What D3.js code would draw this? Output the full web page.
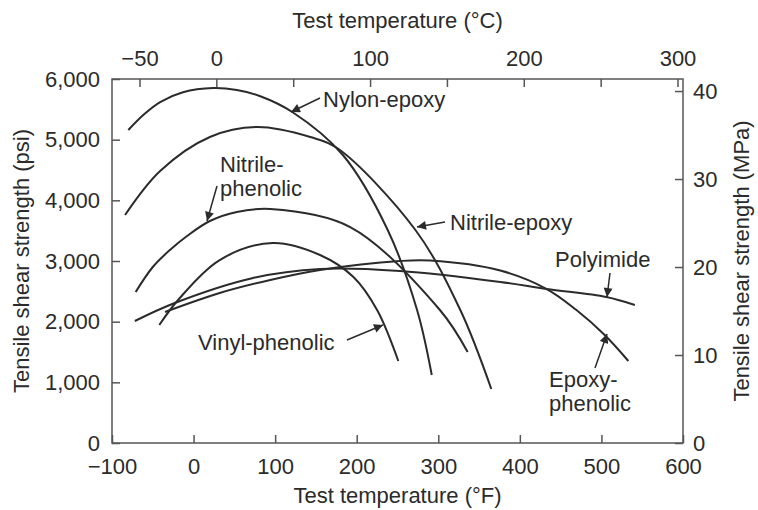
<!DOCTYPE html>
<html><head><meta charset="utf-8">
<script src="https://cdn.jsdelivr.net/npm/d3@7"></script>
<style>
body{margin:0;background:#fff}
svg{display:block}
text{font-family:"Liberation Sans",Arial,Helvetica,sans-serif;fill:#2b2b2b}
</style>
</head><body>
<svg id="chart" width="758" height="510"></svg>
<script>
// ---- data (°F, psi) ----
const fahrenheitTicks = [-100, 0, 100, 200, 300, 400, 500, 600];
const psiTicks = [0, 1000, 2000, 3000, 4000, 5000, 6000];
const celsiusTicks = [-50, 0, 50, 100, 150, 200, 250, 300];
const celsiusLabels = [-50, 0, 100, 200, 300];
const mpaTicks = [0, 10, 20, 30, 40];
const seriesNames = ["Nylon-epoxy", "Nitrile-epoxy", "Nitrile-phenolic", "Vinyl-phenolic", "Polyimide", "Epoxy-phenolic"];

const nylonEpoxy = [[-80,5160],[-61,5415],[-41,5620],[-13,5782],[24,5850],[53,5818],[81,5720],[121,5456],[183,4747],[238,3511],[274,2192],[292,1121]];
const nitrileEpoxy = [[-84,3758],[-41,4483],[20,5044],[78,5208],[143,5044],[176,4862],[272,3511],[327,2192],[365,890]];
const nitrilePhenolic = [[-71,2489],[-50,2901],[-29,3181],[-8,3412],[20,3659],[53,3808],[94,3857],[192,3560],[302,2192],[336,1500]];
const vinylPhenolic = [[-42,1945],[-19,2357],[32,3016],[97,3297],[155,3099],[196,2736],[225,2192],[251,1352]];
const polyimide = [[-72,2011],[-23,2308],[73,2720],[155,2868],[253,2835],[376,2654],[433,2538],[506,2406],[541,2275]];
const epoxyPhenolic = [[-35,2159],[32,2472],[94,2687],[155,2852],[253,3000],[290,3008],[376,2843],[433,2538],[469,2195],[504,1780],[533,1352]];
const allSeries = [nylonEpoxy, nitrileEpoxy, nitrilePhenolic, vinylPhenolic, polyimide, epoxyPhenolic];

const PSI_PER_MPA = 145.038;

// ---- layout ----
const L = 112, R = 683, T = 79, B = 443;
const FS = 22;

const svg = d3.select("#chart");
const x = d3.scaleLinear().domain([-100, 600]).range([L, R]);
const y = d3.scaleLinear().domain([0, 6000]).range([B, T]);
const xC = d3.scaleLinear().domain([-50, 300]).range([L + 27.5, R - 5.5]);
const yM = d3.scaleLinear().domain([0, 6000 / PSI_PER_MPA]).range([B, T]);

svg.append("defs").append("marker")
  .attr("id", "arrow").attr("viewBox", "0 0 10 10")
  .attr("refX", 10).attr("refY", 5)
  .attr("markerWidth", 12).attr("markerHeight", 9)
  .attr("markerUnits", "userSpaceOnUse")
  .attr("orient", "auto")
  .append("path").attr("d", "M0,0L10,5L0,10Z").attr("fill", "#2b2b2b");

const fmt = d3.format(",");
function styleAxis(g) {
  g.select(".domain").remove();
  g.selectAll(".tick line").attr("stroke", "#555").attr("stroke-width", 1.5);
  g.selectAll(".tick text").style("font-size", FS + "px").attr("fill", "#2b2b2b");
}

svg.append("g").attr("transform", `translate(0,${B})`)
  .call(d3.axisBottom(x).tickValues(fahrenheitTicks).tickSize(-8).tickPadding(15).tickFormat(fmt))
  .call(styleAxis);
svg.append("g").attr("transform", `translate(${L},0)`)
  .call(d3.axisLeft(y).tickValues(psiTicks).tickSize(-8).tickPadding(12).tickFormat(fmt))
  .call(styleAxis);
svg.append("g").attr("transform", `translate(0,${T})`)
  .call(d3.axisTop(xC).tickValues(celsiusTicks).tickSize(-8).tickPadding(13)
    .tickFormat(d => celsiusLabels.includes(d) ? fmt(d) : ""))
  .call(styleAxis);
svg.append("g").attr("transform", `translate(${R},0)`)
  .call(d3.axisRight(yM).tickValues(mpaTicks).tickSize(-8).tickPadding(10).tickFormat(fmt))
  .call(styleAxis);

svg.append("rect").attr("x", L).attr("y", T).attr("width", R - L).attr("height", B - T)
  .attr("fill", "none").attr("stroke", "#555").attr("stroke-width", 1.5);

// titles
svg.append("text").attr("x", (L + R) / 2).attr("y", 28).attr("text-anchor", "middle")
  .style("font-size", FS + "px").text("Test temperature (°C)");
svg.append("text").attr("x", (L + R) / 2).attr("y", 503).attr("text-anchor", "middle")
  .style("font-size", FS + "px").text("Test temperature (°F)");
svg.append("text").attr("transform", `translate(29,${(T + B) / 2}) rotate(-90)`).attr("text-anchor", "middle")
  .style("font-size", FS + "px").text("Tensile shear strength (psi)");
svg.append("text").attr("transform", `translate(749,${(T + B) / 2}) rotate(-90)`).attr("text-anchor", "middle")
  .style("font-size", FS + "px").text("Tensile shear strength (MPa)");

// curves
const line = d3.line().x(d => x(d[0])).y(d => y(d[1])).curve(d3.curveCatmullRom.alpha(0.5));
svg.append("g").selectAll("path").data(allSeries).join("path")
  .attr("d", line).attr("fill", "none").attr("stroke", "#2b2b2b").attr("stroke-width", 2);

// annotations (pixel layout)
const notes = [
  {lines: [seriesNames[0]], tx: 323, ty: 107, from: [320, 98], to: [291, 112]},
  {lines: ["Nitrile-", "phenolic"], tx: 220, ty: 172, from: [217, 186], to: [207, 221]},
  {lines: [seriesNames[1]], tx: 450, ty: 230, from: [445, 222], to: [417, 227]},
  {lines: [seriesNames[4]], tx: 555, ty: 267, from: [610, 273], to: [607, 297]},
  {lines: ["Epoxy-", "phenolic"], tx: 549, ty: 387, from: [595, 368], to: [607, 334]},
  {lines: [seriesNames[3]], tx: 198, ty: 350, from: [347, 340], to: [383, 325]}
];
const ag = svg.append("g");
notes.forEach(n => {
  const t = ag.append("text").attr("x", n.tx).attr("y", n.ty).style("font-size", FS + "px");
  n.lines.forEach((s, i) => t.append("tspan").attr("x", n.tx).attr("dy", i ? 24 : 0).text(s));
  ag.append("line").attr("x1", n.from[0]).attr("y1", n.from[1]).attr("x2", n.to[0]).attr("y2", n.to[1])
    .attr("stroke", "#2b2b2b").attr("stroke-width", 1.5).attr("marker-end", "url(#arrow)");
});
</script>
</body></html>
